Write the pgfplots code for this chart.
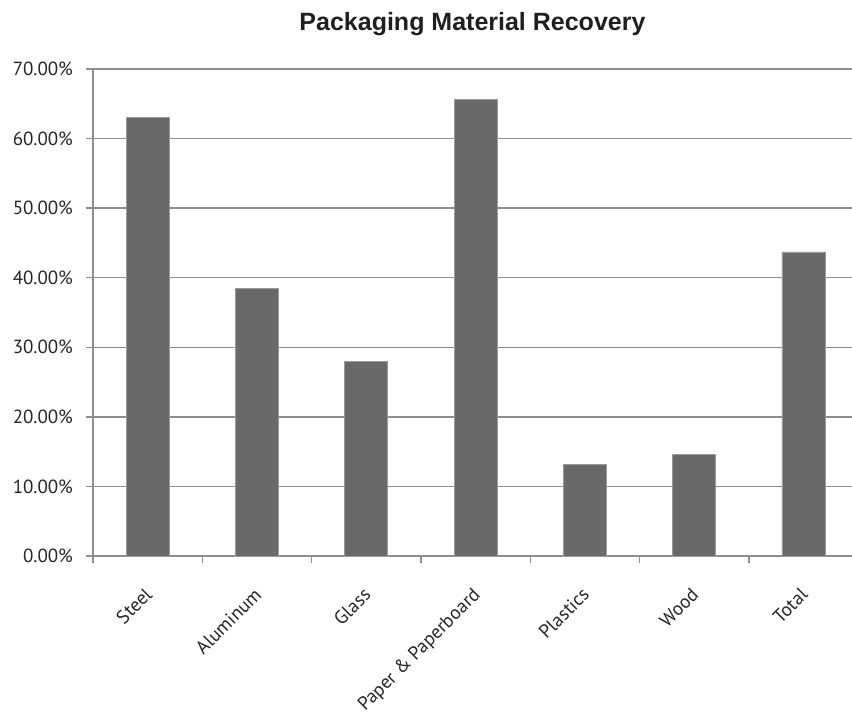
\documentclass[border=0pt]{standalone}
\usepackage{pgfplots}
\pgfplotsset{compat=1.18}
\usepackage{fontspec}
\setmainfont{PT Sans}
\newfontfamily\titlefont{Liberation Sans}
\definecolor{barfill}{HTML}{69696B}
\definecolor{baredge}{HTML}{9A9A9C}
\definecolor{gridgray}{HTML}{8E8E8E}
\begin{document}
\begin{tikzpicture}
\path[use as bounding box] (-46.5pt,-79pt) rectangle (379.5pt,278pt);
\begin{axis}[
  at={(0,0)}, anchor=south west,
  scale only axis, width=379.5pt, height=243.5pt,
  xmin=-0.5, xmax=6.444, ymin=0, ymax=70,
  axis x line*=bottom, axis y line*=left,
  axis line style={gridgray, line width=0.7pt},
  tick style={gridgray, line width=0.7pt},
  tick align=outside, major tick length=3.5pt,
  ymajorgrids, grid style={gridgray, line width=0.7pt},
  ytick={0,10,...,70},
  /pgf/number format/assume math mode=true,
  yticklabel={\pgfmathprintnumber[fixed,fixed zerofill,precision=2]{\tick}\%},
  yticklabel style={font=\fontsize{9.5}{11}\selectfont, text=black!85, xshift=-3pt},
  xtick={-0.5,0.5,...,5.5}, xticklabels={},
  extra x ticks={0,1,2,3,4,5,6},
  extra x tick labels={Steel,Aluminum,Glass,Paper \& Paperboard,Plastics,Wood,Total},
  extra x tick style={major tick length=0pt,
    xticklabel style={xshift=-2pt, yshift=-15pt, rotate=45, anchor=north east, inner sep=0pt,
      font=\fontsize{9.5}{11}\selectfont, text=black!85}},
  clip=false,
]
\addplot[ybar, bar width=21.5pt, fill=barfill, draw=baredge, line width=0.4pt]
  coordinates {(0,63.0) (1,38.4) (2,28.0) (3,65.6) (4,13.1) (5,14.6) (6,43.7)};
\node[anchor=base, font=\titlefont\bfseries\fontsize{12.5}{15}\selectfont, text=black!88]
  at (rel axis cs:0.5,1) [yshift=19.5pt] {Packaging Material Recovery};
\end{axis}
\end{tikzpicture}
\end{document}
